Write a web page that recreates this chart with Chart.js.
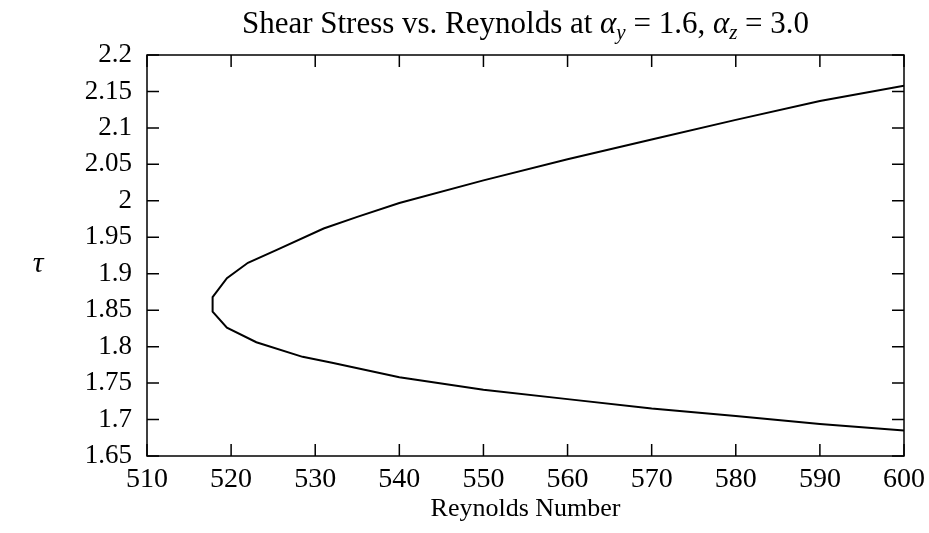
<!DOCTYPE html>
<html>
<head>
<meta charset="utf-8">
<script src="https://cdn.jsdelivr.net/npm/chart.js@4.4.1/dist/chart.umd.min.js"></script>
<style>
  html, body { margin: 0; padding: 0; background: #fff; }
  #wrap { width: 929px; height: 533px; }
</style>
</head>
<body>
<div id="wrap"><canvas id="shearChart"></canvas></div>
<script>
// curve, from the upper right end round the nose to the lower right end
const reynolds = [600, 590, 580, 570, 560, 550, 540, 535, 531, 525.5, 522, 519.5, 517.8, 517.8, 519.5, 523, 528.5, 532, 540, 550, 560, 570, 580, 590, 600];
const shear    = [2.158, 2.137, 2.111, 2.084, 2.057, 2.028, 1.997, 1.978, 1.962, 1.933, 1.915, 1.894, 1.868, 1.848, 1.826, 1.806, 1.786, 1.778, 1.758, 1.741, 1.728, 1.715, 1.705, 1.694, 1.685];

const xTickValues = [510, 520, 530, 540, 550, 560, 570, 580, 590, 600];
const xTickLabels = ["510", "520", "530", "540", "550", "560", "570", "580", "590", "600"];
const yTickValues = [1.65, 1.7, 1.75, 1.8, 1.85, 1.9, 1.95, 2, 2.05, 2.1, 2.15, 2.2];
const yTickLabels = ["1.65", "1.7", "1.75", "1.8", "1.85", "1.9", "1.95", "2", "2.05", "2.1", "2.15", "2.2"];

const serif = "'Liberation Serif', 'DejaVu Serif', serif";

// title with subscripts and the tau label, drawn as canvas text
const textPlugin = {
    id: "texts",
    afterDraw(chart) {
        const ctx = chart.ctx;
        const area = chart.chartArea;
        const parts = [
            { t: "Shear Stress vs. Reynolds at ", f: "31px", it: false, sub: false },
            { t: "\u03b1", f: "31px", it: true, sub: false },
            { t: "y", f: "21px", it: true, sub: true },
            { t: " = 1.6, ", f: "31px", it: false, sub: false },
            { t: "\u03b1", f: "31px", it: true, sub: false },
            { t: "z", f: "21px", it: true, sub: true },
            { t: " = 3.0", f: "31px", it: false, sub: false }
        ];
        ctx.save();
        ctx.fillStyle = "#000";
        ctx.textBaseline = "alphabetic";
        let total = 0;
        parts.forEach(p => {
            ctx.font = (p.it ? "italic " : "") + p.f + " " + serif;
            p.w = ctx.measureText(p.t).width;
            total += p.w;
        });
        let x = (area.left + area.right) / 2 - total / 2;
        parts.forEach(p => {
            ctx.font = (p.it ? "italic " : "") + p.f + " " + serif;
            ctx.fillText(p.t, x, p.sub ? 39 : 33);
            x += p.w;
        });

        ctx.font = "italic 30px " + serif;
        ctx.textAlign = "center";
        ctx.fillText("\u03c4", 38, 272);
        ctx.restore();
    }
};

// frame and inward ticks on all four sides
const framePlugin = {
    id: "frame",
    afterDraw(chart) {
        const ctx = chart.ctx;
        const a = chart.chartArea;
        const xs = chart.scales.x;
        const ys = chart.scales.y;
        const len = 12;
        ctx.save();
        ctx.strokeStyle = "#000";
        ctx.lineWidth = 1.5;
        ctx.strokeRect(a.left, a.top, a.right - a.left, a.bottom - a.top);
        ctx.beginPath();
        xTickValues.forEach(v => {
            const px = xs.getPixelForValue(v);
            ctx.moveTo(px, a.bottom); ctx.lineTo(px, a.bottom - len);
            ctx.moveTo(px, a.top); ctx.lineTo(px, a.top + len);
        });
        yTickValues.forEach(v => {
            const py = ys.getPixelForValue(v);
            ctx.moveTo(a.left, py); ctx.lineTo(a.left + len, py);
            ctx.moveTo(a.right, py); ctx.lineTo(a.right - len, py);
        });
        ctx.stroke();
        ctx.restore();
    }
};

new Chart("shearChart", {
    type: "scatter",
    data: {
        datasets: [{
            data: reynolds.map((r, i) => ({ x: r, y: shear[i] })),
            showLine: true,
            borderColor: "#000",
            borderWidth: 2,
            pointRadius: 0,
            tension: 0,
            fill: false
        }]
    },
    options: {
        responsive: true,
        maintainAspectRatio: false,
        animation: false,
        layout: { padding: { top: 55, right: 25, left: 0, bottom: 0 } },
        plugins: {
            legend: { display: false },
            tooltip: { enabled: false }
        },
        scales: {
            x: {
                type: "linear",
                min: 510,
                max: 600,
                afterBuildTicks: s => { s.ticks = xTickValues.map(v => ({ value: v })); },
                afterFit: s => { s.height = 77; s.paddingLeft = 0; s.paddingRight = 0; },
                grid: { display: false, drawTicks: false },
                border: { display: false },
                ticks: {
                    padding: 7,
                    autoSkip: false,
                    color: "#000",
                    font: { family: serif, size: 28 },
                    maxRotation: 0,
                    callback: (v, i) => xTickLabels[i]
                },
                title: {
                    display: true,
                    text: "Reynolds Number",
                    color: "#000",
                    font: { family: serif, size: 26 },
                    padding: { top: 0, bottom: 8 }
                }
            },
            y: {
                type: "linear",
                min: 1.65,
                max: 2.2,
                afterBuildTicks: s => { s.ticks = yTickValues.map(v => ({ value: v })); },
                afterFit: s => { s.width = 147; s.paddingTop = 0; s.paddingBottom = 0; },
                grid: { display: false, drawTicks: false },
                border: { display: false },
                ticks: {
                    padding: 15,
                    autoSkip: false,
                    color: "#000",
                    font: { family: serif, size: 27 },
                    callback: (v, i) => yTickLabels[i]
                }
            }
        }
    },
    plugins: [textPlugin, framePlugin]
});
</script>
</body>
</html>
